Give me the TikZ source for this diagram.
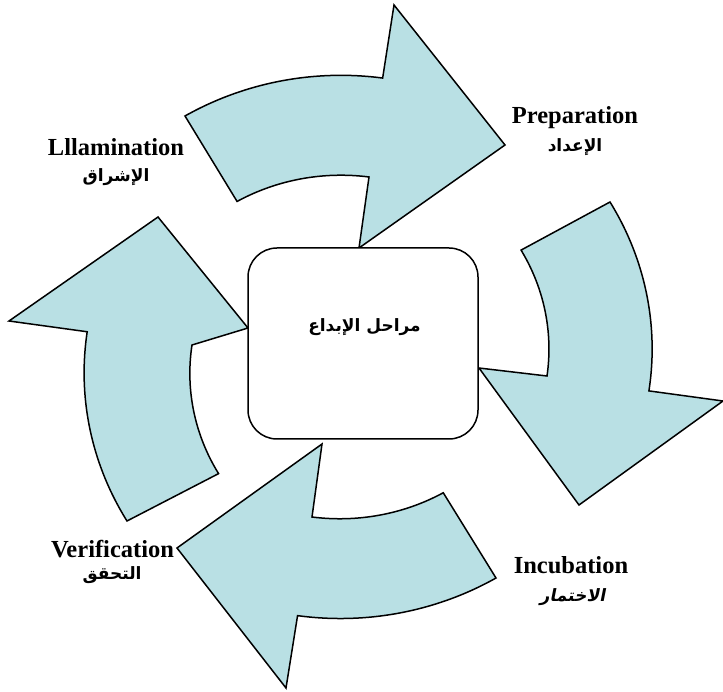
\documentclass[tikz,border=0pt]{standalone}
\usepackage{fontspec}
\setmainfont{Liberation Serif}
\newfontfamily\arabicfont[Script=Arabic]{DejaVu Sans}
\newfontfamily\arabicslant[Script=Arabic,FakeSlant=0.2]{DejaVu Sans}
\TeXXeTstate=1
\definecolor{arrowblue}{RGB}{185,224,228}
\tikzset{
  cyclearrow/.style={fill=arrowblue, draw=black, line width=1.5pt, line join=miter},
  centerbox/.style={draw=black, fill=white, line width=1.5pt, rounded corners=29pt,
    minimum width=230pt, minimum height=191pt, inner sep=0pt},
  latinlabel/.style={font=\fontsize{24.5}{28}\selectfont\bfseries, inner sep=0pt},
  arablabel/.style={font=\fontsize{17}{20}\selectfont\arabicfont\bfseries, inner sep=0pt},
}
\begin{document}
\begin{tikzpicture}[x=1pt,y=1pt]
\useasboundingbox (0,0) rectangle (723,691);
% top arrow (Preparation)
\path[cyclearrow] (185,575) arc[start angle=120.4, end angle=82.2, x radius=308pt, y radius=295.8pt]
  -- (394,686) -- (505,546) -- (359,443) -- (369,514)
  arc[start angle=82.25, end angle=120.0, x radius=207.8pt, y radius=196pt] -- cycle;
% right arrow (Incubation)
\path[cyclearrow] (610,489) arc[start angle=30.03, end angle=-8.22, x radius=314pt, y radius=293.6pt]
  -- (723,290) -- (579,186) -- (479,323) -- (547,315)
  arc[start angle=-7.8, end angle=29.8, x radius=211pt, y radius=199pt] -- cycle;
% bottom arrow (Verification)
\path[cyclearrow] (496,113) arc[start angle=-59.66, end angle=-98.0, x radius=308pt, y radius=295.8pt]
  -- (286,3) -- (177,143) -- (322,247) -- (312,174)
  arc[start angle=-97.7, end angle=-60.15, x radius=207.8pt, y radius=196pt] -- cycle;
% left arrow (Illumination)
\path[cyclearrow] (127,170) arc[start angle=210.3, end angle=171.95, x radius=314pt, y radius=293.6pt]
  -- (9,370) -- (158,474) -- (248,363) -- (192,346)
  arc[start angle=171.8, end angle=210.25, x radius=211pt, y radius=199pt] -- cycle;
% centre box
\node[centerbox] (box) at (363,347.5) {};
\node[arablabel] (boxtext) at (364.5,364) {\beginR مراحل الإبداع\endR};
% labels
\node[latinlabel] (illum) at (116,544) {Lllamination};
\node[arablabel] (illumar) at (116,514) {\beginR الإشراق\endR};
\node[latinlabel] (prep) at (575,573) {Preparation};
\node[arablabel] (prepar) at (575,544) {\beginR الإعداد\endR};
\node[latinlabel] (incub) at (571,126) {Incubation};
\node[arablabel, font=\fontsize{17}{20}\selectfont\arabicslant\bfseries] (incubar) at (572.5,94) {\beginR الاختمار\endR};
\node[latinlabel] (verif) at (112.5,142) {Verification};
\node[arablabel] (verifar) at (112,116) {\beginR التحقق\endR};
\end{tikzpicture}
\end{document}
